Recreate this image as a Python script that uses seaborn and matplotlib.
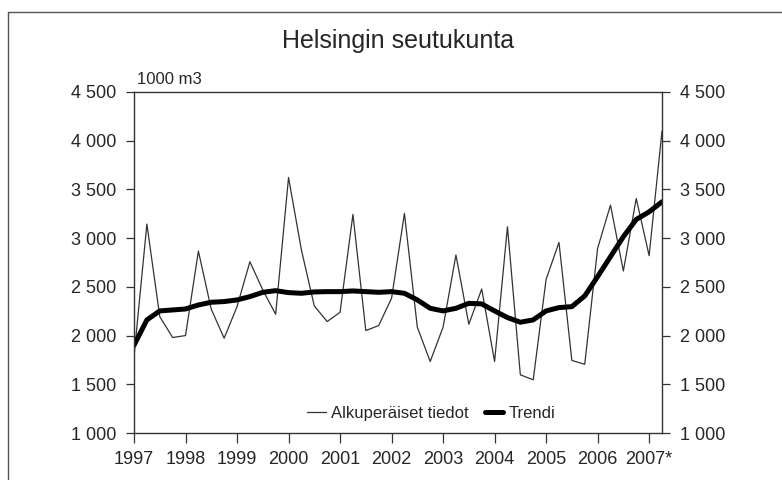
import numpy as np
import pandas as pd
import matplotlib
matplotlib.use("Agg")
import matplotlib.pyplot as plt
from matplotlib.lines import Line2D
from matplotlib.ticker import FuncFormatter
import seaborn as sns

# quarterly data 1997Q1 .. 2007Q2
years = list(range(1997, 2008))
year_labels = [str(y) for y in years[:-1]] + ["2007*"]

original = [
    1785, 3144, 2195, 1980,
    2000, 2867, 2270, 1973,
    2297, 2758, 2468, 2219,
    3622, 2878, 2304, 2144,
    2239, 3243, 2051, 2103,
    2383, 3254, 2086, 1734,
    2086, 2827, 2116, 2478,
    1734, 3117, 1597, 1546,
    2577, 2956, 1745, 1705,
    2895, 3339, 2663, 3407,
    2820, 4100,
]
trend = [
    1900, 2161, 2253, 2263,
    2273, 2314, 2342, 2349,
    2366, 2400, 2444, 2461,
    2441, 2434, 2448, 2451,
    2451, 2458, 2451, 2444,
    2451, 2434, 2366, 2280,
    2253, 2280, 2331, 2325,
    2253, 2185, 2137, 2161,
    2253, 2287, 2297, 2407,
    2605, 2810, 3015, 3192,
    3270, 3373,
]
y_ticks = [1000, 1500, 2000, 2500, 3000, 3500, 4000, 4500]

t = 1997 + np.arange(len(original)) / 4
df = pd.DataFrame({"t": t, "orig": original, "trend": trend})

sns.set_style("white")
plt.rcParams["font.family"] = ["Liberation Sans Narrow", "Liberation Sans", "DejaVu Sans"]

fig = plt.figure(figsize=(7.82, 4.80), dpi=100)
ax = fig.add_axes([134 / 782, 1 - 433 / 480, 528 / 782, 341 / 480])

sns.lineplot(data=df, x="t", y="orig", ax=ax, color="#333333", lw=0.9,
             label="Alkuperäiset tiedot")
sns.lineplot(data=df, x="t", y="trend", ax=ax, color="black", lw=3.6,
             label="Trendi")

ax.set_xlim(1997, 1997 + (len(original) - 1) / 4)
ax.set_ylim(1000, 4500)
ax.set_xticks(years)
ax.set_xticklabels(year_labels)
ax.set_yticks(y_ticks)
ax.yaxis.set_major_formatter(FuncFormatter(lambda v, p: f"{int(v):,}".replace(",", " ")))
ax.set_xlabel("")
ax.set_ylabel("")

for s in ax.spines.values():
    s.set_color("#333333")
    s.set_linewidth(1.0)

ax.tick_params(axis="y", which="both", left=True, right=True, labelleft=True,
               labelright=True, direction="out", length=6, width=0.9,
               color="#333333", labelsize=13, pad=7)
ax.tick_params(axis="x", bottom=True, direction="out", length=7, width=0.9,
               color="#333333", labelsize=13, pad=6)

ax.legend(loc="lower right", bbox_to_anchor=(0.81, 0.015), frameon=False,
          fontsize=12, handlelength=1.1, handletextpad=0.3, columnspacing=1.0,
          ncol=2, borderaxespad=0)

fig.text(398 / 782, 1 - 41 / 480, "Helsingin seutukunta", ha="center",
         va="center", fontsize=18)
fig.text(137 / 782, 1 - 84 / 480, "1000 m3", ha="left", va="baseline",
         fontsize=12)

# outer frame (left and top edges visible in the reference)
fig.add_artist(Line2D([8 / 782, 8 / 782], [0, 1 - 12 / 480], color="#555555", lw=1))
fig.add_artist(Line2D([8 / 782, 1], [1 - 12 / 480, 1 - 12 / 480], color="#555555", lw=1))

fig.savefig("out.png", dpi=100)
